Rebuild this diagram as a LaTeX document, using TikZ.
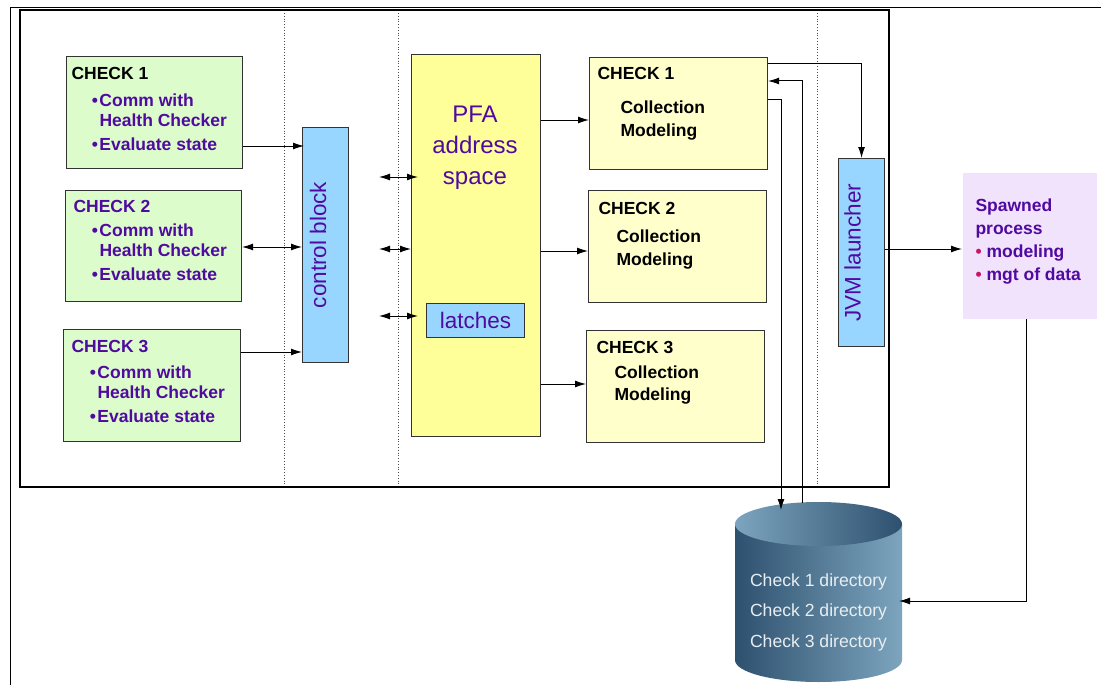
\documentclass[tikz,border=0pt]{standalone}
\usepackage{fontspec}
\setmainfont{Liberation Sans}
\usetikzlibrary{arrows.meta,positioning}

\definecolor{chkgreen}{RGB}{221,252,204}
\definecolor{chkyellow}{RGB}{255,255,204}
\definecolor{pfayellow}{RGB}{255,255,153}
\definecolor{ctlblue}{RGB}{153,214,255}
\definecolor{txtpurple}{RGB}{80,10,160}
\definecolor{spawnpink}{RGB}{242,227,252}
\definecolor{dotred}{RGB}{200,20,100}
\definecolor{dblight}{RGB}{125,165,190}
\definecolor{dbdark}{RGB}{45,80,110}
\definecolor{dbtext}{RGB}{232,238,242}

\tikzset{
	box/.style={draw=black!80,line width=1.1pt,anchor=north west,inner sep=0pt},
	ttl/.style={font=\bfseries\fontsize{17.5}{20}\selectfont,anchor=base west,inner sep=0pt},
	itm/.style={ttl,align=left,text=txtpurple},
	bigtxt/.style={font=\fontsize{22.5}{27}\selectfont,text=txtpurple,inner sep=0pt},
}
\newcommand{\bul}{\llap{\textbullet\hspace{1.5pt}}}
\newcommand{\reddot}{{\color{dotred}\textbullet}\hspace{5pt}}
\newcommand{\chkitems}{\bul Comm with\\Health Checker\\[4pt]\bul Evaluate state}

\begin{document}
\begin{tikzpicture}[x=1pt,y=-1pt,>={Latex[length=11pt,width=7pt]},line width=1pt]
	\useasboundingbox (0,0) rectangle (1101,685);
	% frames and dotted separators
	\draw (10,685) -- (10,8) -- (1101,8);
	\draw[line width=1.3pt] (20,10) rectangle (889,487);
	\foreach \x in {284,398,817}
		\draw[dotted,line width=0.8pt,black!70] (\x,13) -- (\x,484);

	% checks on the left (multi-line texts sit on their last baseline)
	\node(lchk1) [box,fill=chkgreen,minimum width=176,minimum height=112] at (66,56) {};
	\node(lchk1t) [ttl] at (71,80) {CHECK 1};
	\node(lchk1i) [itm] at (99,150) {\chkitems};
	\node(lchk2) [box,fill=chkgreen,minimum width=176,minimum height=111] at (65,190) {};
	\node(lchk2t) [ttl,text=txtpurple] at (73,212) {CHECK 2};
	\node(lchk2i) [itm] at (99,280) {\chkitems};
	\node(lchk3) [box,fill=chkgreen,minimum width=177,minimum height=112] at (63,329) {};
	\node(lchk3t) [ttl,text=txtpurple] at (71,352) {CHECK 3};
	\node(lchk3i) [itm] at (97,422) {\chkitems};

	% control block and PFA
	\node(ctrl) [box,fill=ctlblue,minimum width=46,minimum height=235] at (302,127) {};
	\node(ctrlt) [bigtxt,rotate=90] at (318,245) {control block};
	\node(pfa) [box,fill=pfayellow,minimum width=129,minimum height=382] at (411,54) {};
	\node(pfat) [bigtxt,font=\fontsize{24}{31}\selectfont,align=center,anchor=base] at (475,184) {PFA\\address\\space};
	\node(latch) [box,fill=ctlblue,minimum width=98,minimum height=34] at (426,303) {};
	\node(latcht) [bigtxt] at (latch.center) {latches};

	% checks on the right
	\node(rchk1) [box,fill=chkyellow,minimum width=178,minimum height=112] at (589,57) {};
	\node(rchk1t) [ttl] at (597,80) {CHECK 1};
	\node(rchk1i) [ttl,align=left,font=\bfseries\fontsize{17.5}{23}\selectfont] at (620,136) {Collection\\Modeling};
	\node(rchk2) [box,fill=chkyellow,minimum width=178,minimum height=112] at (588,190) {};
	\node(rchk2t) [ttl] at (598,214) {CHECK 2};
	\node(rchk2i) [ttl,align=left,font=\bfseries\fontsize{17.5}{23}\selectfont] at (616,265) {Collection\\Modeling};
	\node(rchk3) [box,fill=chkyellow,minimum width=178,minimum height=112] at (586,330) {};
	\node(rchk3t) [ttl] at (596,353) {CHECK 3};
	\node(rchk3i) [ttl,align=left,font=\bfseries\fontsize{17.5}{22}\selectfont] at (614,400) {Collection\\Modeling};

	% launcher and spawned process
	\node(jvm) [box,fill=ctlblue,minimum width=46,minimum height=188] at (838,158) {};
	\node(jvmt) [bigtxt,rotate=90] at (852.5,252.5) {JVM launcher};
	\node(spawn) [fill=spawnpink,anchor=north west,inner sep=0pt,minimum width=134,minimum height=146] at (962,172) {};
	\node(spawnt) [itm,font=\bfseries\fontsize{17.5}{22.7}\selectfont] at (975,280) {Spawned\\process\\\reddot modeling\\\reddot mgt of data};

	% directory store
	\shade[left color=dbdark,right color=dblight] (735,524) -- (735,660)
		arc[start angle=180,end angle=360,x radius=83.5pt,y radius=22pt] -- (902,524) -- cycle;
	\shade[left color=dblight,right color=dbdark] (818.5,524) ellipse [x radius=83.5pt,y radius=22pt];
	\node(dbtxt) [font=\fontsize{17.6}{30.5}\selectfont,text=dbtext,align=center,anchor=base,inner sep=0pt] at (818.5,647) {Check 1 directory\\Check 2 directory\\Check 3 directory};
	\coordinate (dbin) at (781,510);
	\coordinate (dbout) at (802.5,503);
	\coordinate (dbside) at (899,601);

	% connectors
	\draw[->] (lchk1.east |- 0,146) -- ([xshift=2pt]ctrl.west |- 0,146);
	\draw[<->] (lchk2.east |- 0,247) -- (ctrl.west |- 0,247);
	\draw[->] (lchk3.east |- 0,352) -- (ctrl.west |- 0,352);
	\coordinate (lk1) at (379,177);
	\coordinate (lk2) at (379,249);
	\coordinate (lk3) at (379,316);
	\draw[<->] (lk1) -- ([xshift=7pt]pfa.west |- lk1);
	\draw[<->] (lk2) -- (pfa.west |- lk2);
	\draw[<->] (lk3) -- ([xshift=7pt]pfa.west |- lk3);
	\draw[->] (pfa.east |- 0,120) -- (rchk1.west |- 0,120);
	\draw[->] (pfa.east |- 0,251) -- (rchk2.west |- 0,251);
	\draw[->] (pfa.east |- 0,384) -- (rchk3.west |- 0,384);
	\draw[->] (rchk1.east |- 0,64) -| (jvm.north);
	\draw[->] (dbout) |- (rchk1.east |- 0,81);
	\draw[->] (rchk1.east |- 0,100) -| (dbin);
	\draw[->] (jvm.east |- 0,249) -- (spawn.west |- 0,249);
	\draw[->] ([xshift=-3pt]spawn.south) |- (dbside);
\end{tikzpicture}
\end{document}
